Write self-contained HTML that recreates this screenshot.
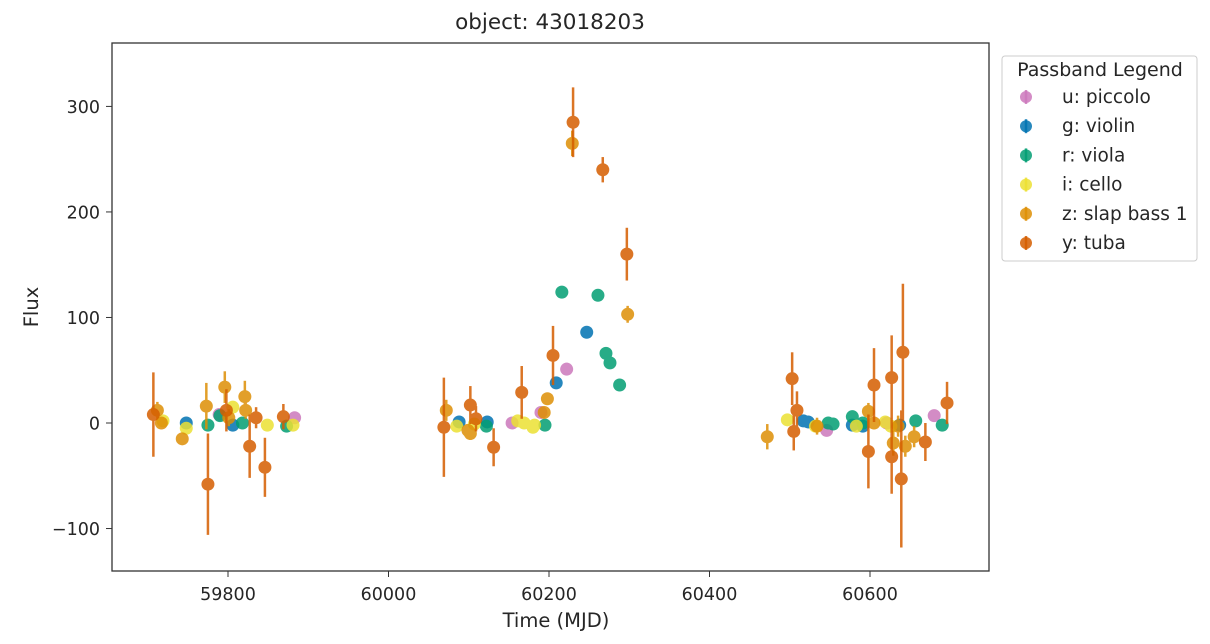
<!DOCTYPE html>
<html><head><meta charset="utf-8"><style>
body{margin:0;background:#fff;font-family:"DejaVu Sans","Liberation Sans",sans-serif}
svg text{font-family:"DejaVu Sans","Liberation Sans",sans-serif;fill:#262626}
</style></head><body>
<svg id="chart" width="1210" height="640">
<text x="550" y="29" font-size="21.5" text-anchor="middle">object: 43018203</text>
<rect x="112" y="43" width="877" height="528" fill="none" stroke="#333" stroke-width="1.3"/>
<g id="ticks"></g>
<g id="marks"></g>
<text x="556" y="627" font-size="19.5" text-anchor="middle">Time (MJD)</text>
<text x="38" y="307" font-size="19.5" text-anchor="middle" transform="rotate(-90 38 307)">Flux</text>
<g id="legend">
<rect x="1002" y="56" width="195" height="205" rx="3" fill="#fff" stroke="#ccc"/>
<text x="1100" y="76" font-size="19" text-anchor="middle">Passband Legend</text>
</g>
</svg>
<script>
const bandNames=["u: piccolo","g: violin","r: viola","i: cello","z: slap bass 1","y: tuba"];
const bandColors=["#cc78bc","#0173b2","#029e73","#ece133","#de8f05","#d55e00"];
const xTicks=[59800,60000,60200,60400,60600];
const yTicks=[-100,0,100,200,300];
const uT=[59789,59883,60154,60190,60222,60546,60621,60680];
const uF=[8,5,0,10,51,-7,0,7];
const uE=[3,3,4,4,6,4,4,4];
const gT=[59748,59806,60088,60123,60209,60247,60517,60523,60578,60591,60637];
const gF=[0,-2,1,1,38,86,2,1,-2,-3,-2];
const gE=[2,2,2,2,3,3,2,2,2,2,2];
const rT=[59775,59790,59818,59873,60122,60195,60216,60261,60271,60276,60288,60548,60554,60578,60591,60657,60690];
const rF=[-2,7,0,-3,-3,-2,124,121,66,57,36,0,-1,6,0,2,-2];
const rE=[2,2,2,2,2,2,3,3,3,3,3,2,2,2,2,2,2];
const iT=[59719,59748,59806,59849,59881,60085,60107,60161,60169,60180,60182,60497,60532,60583,60619,60626];
const iF=[2,-5,15,-2,-2,-3,-1,2,0,-4,-2,3,-3,-3,1,-3];
const iE=[3,3,5,3,3,3,3,3,3,3,3,3,3,3,3,3];
const zT=[59712,59717,59743,59773,59796,59801,59821,59822,60072,60099,60102,60194,60198,60229,60298,60472,60534,60598,60605,60629,60635,60644,60655];
const zF=[12,0,-15,16,34,5,25,12,12,-7,-10,10,23,265,103,-13,-3,11,0,-19,-3,-22,-13];
const zE=[8,5,5,22,15,8,15,8,10,6,6,5,5,12,8,12,8,8,6,12,10,10,10];
const yT=[59707,59775,59798,59827,59835,59846,59869,60069,60102,60109,60131,60166,60205,60230,60267,60297,60503,60505,60509,60598,60605,60627,60627,60641,60639,60669,60696];
const yF=[8,-58,12,-22,5,-42,6,-4,17,4,-23,29,64,285,240,160,42,-8,12,-27,36,43,-32,67,-53,-18,19];
const yE=[40,48,20,30,10,28,12,47,18,12,18,25,28,33,12,25,25,18,18,35,35,40,35,65,65,18,20];
const bands=[[uT,uF,uE],[gT,gF,gE],[rT,rF,rE],[iT,iF,iE],[zT,zF,zE],[yT,yF,yE]];
const NS="http://www.w3.org/2000/svg";
function X(t){return 228+(t-59800)*0.8025;}
function Y(f){return 423-f*1.0553;}
function mk(tag,attrs,parent){const e=document.createElementNS(NS,tag);for(const k in attrs)e.setAttribute(k,attrs[k]);parent.appendChild(e);return e;}
const tg=document.getElementById('ticks');
xTicks.forEach(v=>{
 const l=mk('line',{x1:X(v),x2:X(v),y1:571,y2:577,stroke:'#333'},tg);
 
 
 const t=mk('text',{x:X(v),y:600,'font-size':17.5,'text-anchor':'middle'},tg);t.textContent=v;
 
 
});
yTicks.forEach(v=>{
 const l=mk('line',{x1:106,x2:112,y1:Y(v),y2:Y(v),stroke:'#333'},tg);
 
 
 const t=mk('text',{x:100,y:Y(v)+6.5,'font-size':17.5,'text-anchor':'end'},tg);t.textContent=String(v).replace('-','\u2212');
 
 
});
const mg=document.getElementById('marks');
bands.forEach((b,bi)=>{
 const g=mk('g',{opacity:0.85},mg);
 
 
 b[0].forEach((t,i)=>{
  const x=X(t),f=b[1][i],e=b[2][i];
  const l=mk('line',{x1:x,x2:x,y1:Y(f-e),y2:Y(f+e),stroke:bandColors[bi],'stroke-width':2.5},g);
  
  
  const c=mk('circle',{cx:x,cy:Y(f),r:6.5,fill:bandColors[bi]},g);
  
  
 });
});
const lg=document.getElementById('legend');
bandNames.forEach((n,i)=>{
 const y=97+i*29.2;
 const g=mk('g',{},lg);
 
 
 mk('line',{x1:1026,x2:1026,y1:y-7,y2:y+7,stroke:bandColors[i],'stroke-width':2.5,opacity:0.85},g);
 mk('circle',{cx:1026,cy:y,r:6,fill:bandColors[i],opacity:0.85},g);
 const t=mk('text',{x:1062,y:y+6,'font-size':18.5},g);t.textContent=n;
});
</script>
</body></html>
